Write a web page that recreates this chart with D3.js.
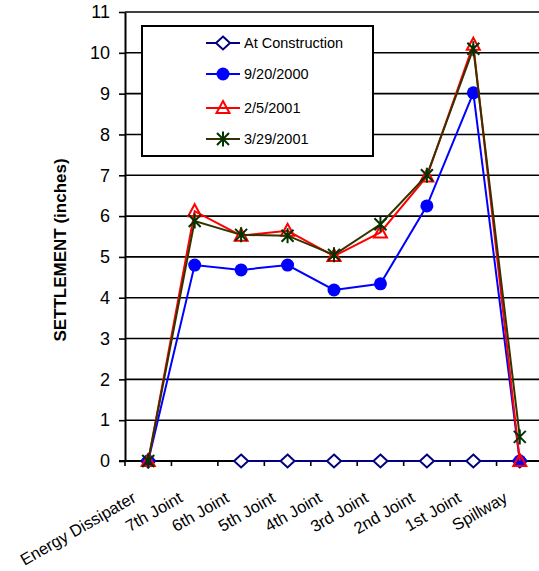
<!DOCTYPE html>
<html>
<head>
<meta charset="utf-8">
<title>Settlement by Location</title>
<script src="https://cdn.jsdelivr.net/npm/d3@7"></script>
<style>
  body { margin: 0; background: #fff; }
  text { font-family: "Liberation Sans", Arial, sans-serif; fill: #000; }
</style>
</head>
<body>
<script>

// data
var categories = ["Energy Dissipater", "7th Joint", "6th Joint", "5th Joint", "4th Joint",
                  "3rd Joint", "2nd Joint", "1st Joint", "Spillway"];
var atConstruction = [0, null, 0, 0, 0, 0, 0, 0, 0];
var sep2000 = [0, 4.8, 4.68, 4.8, 4.19, 4.34, 6.25, 9.02, 0];
var feb2001 = [0, 6.12, 5.52, 5.64, 5.02, 5.6, 6.97, 10.2, 0];
var mar2001 = [0, 5.88, 5.54, 5.52, 5.05, 5.8, 7.0, 10.1, 0.59];
var yTicks = [0, 1, 2, 3, 4, 5, 6, 7, 8, 9, 10, 11];

var series = [
  {name: "At Construction", values: atConstruction, line: "#000080", marker: "diamond"},
  {name: "9/20/2000", values: sep2000, line: "#0000ff", marker: "circle"},
  {name: "2/5/2001", values: feb2001, line: "#ff0000", marker: "triangle"},
  {name: "3/29/2001", values: mar2001, line: "#333300", marker: "star"}
];

// dimensions (plot area runs past the right edge, like the original)
var margin = {top: 12, left: 125},
    width = 418,
    height = 449;

var svg = d3.select("body").append("svg")
    .attr("width", 539)
    .attr("height", 571);

var g = svg.append("g")
    .attr("transform", "translate(" + margin.left + "," + margin.top + ")");

var x = d3.scaleBand().domain(categories).range([0, width]).padding(0);
var y = d3.scaleLinear().domain([0, 11]).range([height, 0]);

// gridlines
g.selectAll(".grid")
  .data(yTicks.slice(1))
  .enter().append("line")
    .attr("class", "grid")
    .attr("x1", 0).attr("x2", width)
    .attr("y1", function(d) { return y(d); })
    .attr("y2", function(d) { return y(d); })
    .attr("stroke", "#000")
    .attr("stroke-width", 1.6);

// y axis
var yAxis = g.append("g")
    .call(d3.axisLeft(y).tickValues(yTicks).tickSize(6).tickPadding(9).tickSizeOuter(0));
yAxis.select(".domain").attr("stroke-width", 2);
yAxis.selectAll(".tick line").attr("stroke-width", 1.6);
yAxis.selectAll("text").style("font-size", "18px").attr("font-family", null);

// x axis: ticks on category boundaries
var xAxis = g.append("g")
    .attr("transform", "translate(0," + height + ")");
xAxis.append("line")
    .attr("x1", -6).attr("x2", width)
    .attr("stroke", "#000").attr("stroke-width", 2);
xAxis.selectAll(".xtick")
  .data(categories)
  .enter().append("line")
    .attr("class", "xtick")
    .attr("x1", function(d) { return x(d); })
    .attr("x2", function(d) { return x(d); })
    .attr("y1", 0).attr("y2", 5)
    .attr("stroke", "#000").attr("stroke-width", 1.6);
xAxis.selectAll(".xlabel")
  .data(categories)
  .enter().append("text")
    .attr("class", "xlabel")
    .attr("text-anchor", "end")
    .attr("transform", function(d) {
      return "translate(" + (x(d) + x.bandwidth() / 2 - 11) + ",40) rotate(-30)";
    })
    .style("font-size", "16.5px")
    .text(function(d) { return d; });

// y axis title
svg.append("text")
    .attr("transform", "translate(66,250) rotate(-90)")
    .attr("text-anchor", "middle")
    .style("font-size", "17px")
    .style("font-weight", "bold")
    .text("SETTLEMENT (inches)");

// marker shapes
function markerPath(type) {
  if (type == "diamond") return "M0,-6.5L7,0L0,6.5L-7,0Z";
  if (type == "triangle") return "M0,-7L6.5,5L-6.5,5Z";
  if (type == "star") return "M-6,-6L6,6M6,-6L-6,6M0,-7.5L0,7.5";
  return null;
}

function drawMarker(sel, s) {
  if (s.marker == "circle") {
    sel.append("circle").attr("r", 6.5).attr("fill", "#0000ff");
  } else if (s.marker == "diamond") {
    sel.append("path").attr("d", markerPath("diamond"))
      .attr("fill", "#fff").attr("stroke", "#000080").attr("stroke-width", 2);
  } else if (s.marker == "triangle") {
    sel.append("path").attr("d", markerPath("triangle"))
      .attr("fill", "none").attr("stroke", "#ff0000").attr("stroke-width", 2);
  } else {
    sel.append("path").attr("d", markerPath("star"))
      .attr("fill", "none").attr("stroke", "#003300").attr("stroke-width", 2);
  }
}

var line = d3.line()
    .defined(function(d) { return d.v != null; })
    .x(function(d) { return x(d.c) + x.bandwidth() / 2; })
    .y(function(d) { return y(d.v); });

series.forEach(function(s) {
  var pts = categories.map(function(c, i) { return {c: c, v: s.values[i]}; });
  g.append("path")
    .datum(pts)
    .attr("fill", "none")
    .attr("stroke", s.line)
    .attr("stroke-width", 2)
    .attr("d", line);
  g.selectAll(null)
    .data(pts.filter(function(d) { return d.v != null; }))
    .enter().append("g")
      .attr("transform", function(d) {
        return "translate(" + (x(d.c) + x.bandwidth() / 2) + "," + y(d.v) + ")";
      })
      .each(function() { drawMarker(d3.select(this), s); });
});

// legend
var legend = svg.append("g").attr("transform", "translate(142,26)");
legend.append("rect")
    .attr("width", 231).attr("height", 130)
    .attr("fill", "#fff").attr("stroke", "#000").attr("stroke-width", 2);
var rowY = [17, 48, 82, 113];
series.forEach(function(s, i) {
  var row = legend.append("g").attr("transform", "translate(0," + rowY[i] + ")");
  row.append("line").attr("x1", 64).attr("x2", 98)
    .attr("stroke", s.line).attr("stroke-width", 2);
  drawMarker(row.append("g").attr("transform", "translate(81,0)"), s);
  row.append("text").attr("x", 102).attr("dy", "0.35em")
    .style("font-size", "14.5px").text(s.name);
});

</script>
</body>
</html>
